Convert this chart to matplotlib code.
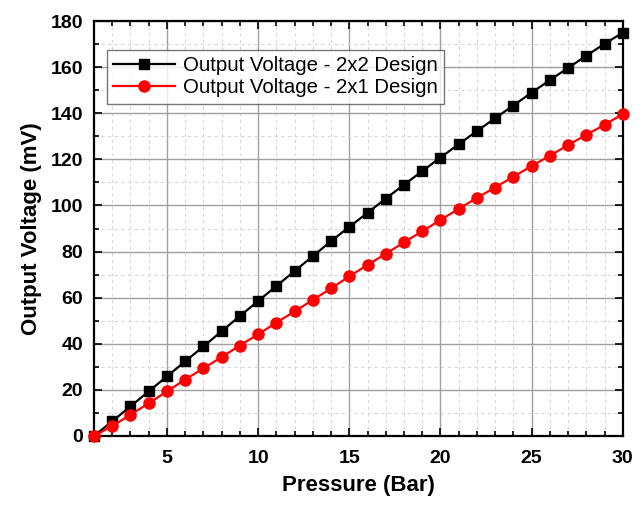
import matplotlib
matplotlib.use("Agg")
import matplotlib.pyplot as plt
from matplotlib.ticker import MultipleLocator

plt.rcParams['font.family'] = ['Liberation Sans', 'DejaVu Sans']

pressure = list(range(1, 31))
v_2x2 = [0, 6.3, 12.8, 19.3, 25.8, 32.3, 38.8, 45.4, 52.0, 58.5,
         65.0, 71.5, 78.0, 84.5, 90.7, 96.8, 103.0, 109.0, 114.9, 120.8,
         126.6, 132.3, 137.9, 143.4, 149.0, 154.4, 159.7, 165.0, 170.2, 175.0]
v_2x1 = [0, 4.2, 9.2, 14.1, 19.3, 24.4, 29.3, 34.2, 39.2, 44.1,
         49.1, 54.0, 59.0, 64.0, 69.2, 74.2, 79.0, 84.0, 88.8, 93.7,
         98.5, 103.3, 107.8, 112.5, 117.1, 121.6, 126.2, 130.7, 135.0, 139.7]

fig = plt.figure(figsize=(6.44, 5.05), dpi=100)
ax = fig.add_axes([0.146, 0.137, 0.821, 0.821])

ax.plot(pressure, v_2x2, color='black', lw=1.6, marker='s', ms=7,
        label='Output Voltage - 2x2 Design', zorder=3, clip_on=False)
ax.plot(pressure, v_2x1, color='red', lw=1.6, marker='o', ms=8,
        label='Output Voltage - 2x1 Design', zorder=3, clip_on=False)

ax.set_xlim(1, 30)
ax.set_ylim(0, 180)
ax.xaxis.set_major_locator(MultipleLocator(5))
ax.xaxis.set_minor_locator(MultipleLocator(1))
ax.yaxis.set_major_locator(MultipleLocator(20))
ax.yaxis.set_minor_locator(MultipleLocator(10))

ax.grid(which='major', color='#a0a0a0', lw=1.0, ls='-')
ax.grid(which='minor', color='#d8d8d8', lw=0.8, ls=(0, (3, 3)))
ax.set_axisbelow(True)

ax.tick_params(which='both', direction='in', top=True, right=True,
               width=1.2, labelsize=14)
ax.tick_params(axis='x', which='major', pad=10)
ax.tick_params(axis='y', which='major', pad=8)
ax.tick_params(which='major', length=6)
ax.tick_params(which='minor', length=3.5)
for lab in ax.get_xticklabels() + ax.get_yticklabels():
    lab.set_fontweight('bold')
for sp in ax.spines.values():
    sp.set_linewidth(1.6)

ax.set_xlabel('Pressure (Bar)', fontsize=16, fontweight='bold', labelpad=6)
ax.set_ylabel('Output Voltage (mV)', fontsize=16, fontweight='bold', labelpad=6)

leg = ax.legend(loc='upper left', bbox_to_anchor=(0.025, 0.93), fontsize=14.7,
                frameon=True, fancybox=False, edgecolor='#555555',
                handlelength=3.0, borderpad=0.3, labelspacing=0.15,
                handletextpad=0.4, borderaxespad=0)
leg.get_frame().set_linewidth(1.0)

fig.savefig('out.png', dpi=100)
